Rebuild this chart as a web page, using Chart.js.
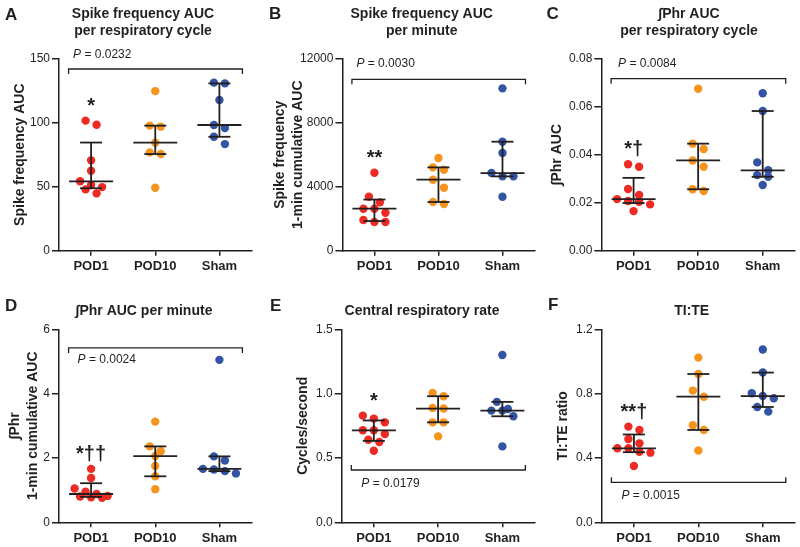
<!DOCTYPE html>
<html><head><meta charset="utf-8">
<script src="https://cdn.jsdelivr.net/npm/chart.js@4.4.1/dist/chart.umd.min.js"></script>
<style>
html,body{margin:0;padding:0;background:#fff;}
#wrap{position:relative;width:800px;height:547px;overflow:hidden;background:#fff;}
.panel{position:absolute;}
</style></head><body>
<div id="wrap">
  <div class="panel" style="left:0px;top:0px;width:265px;height:278px"><canvas id="cA"></canvas></div>
  <div class="panel" style="left:265px;top:0px;width:275px;height:278px"><canvas id="cB"></canvas></div>
  <div class="panel" style="left:530px;top:0px;width:270px;height:278px"><canvas id="cC"></canvas></div>
  <div class="panel" style="left:0px;top:278px;width:265px;height:269px"><canvas id="cD"></canvas></div>
  <div class="panel" style="left:265px;top:278px;width:275px;height:269px"><canvas id="cE"></canvas></div>
  <div class="panel" style="left:530px;top:278px;width:270px;height:269px"><canvas id="cF"></canvas></div>
</div>
<script>
// ---------- data ----------
const categories = ['POD1', 'POD10', 'Sham'];
const groupColors = ['#ED2B24', '#F7941E', '#3353A4'];

// A: Spike frequency AUC per respiratory cycle
const titleA = ['Spike frequency AUC', 'per respiratory cycle'];
const yTitleA = 'Spike frequency AUC';
const ticksA = ['0', '50', '100', '150'];
const pod1A = [101.6, 98.4, 70.6, 62.5, 54.2, 51.3, 49.7, 47.9, 44.8];
const pod10A = [124.7, 97.7, 96.9, 84.4, 76.8, 75.5, 49.2];
const shamA = [131.3, 130.7, 117.7, 98.2, 95.8, 89.0, 83.3];
const pA = '0.0232';
const markA = '*';

// B: Spike frequency AUC per minute
const titleB = ['Spike frequency AUC', 'per minute'];
const yTitleB = ['Spike frequency', '1-min cumulative AUC'];
const ticksB = ['0', '4000', '8000', '12000'];
const pod1B = [4875, 3375, 3021, 2625, 2625, 2375, 1917, 1792, 1792];
const pod10B = [5792, 5208, 5063, 4438, 3938, 3042, 2917];
const shamB = [10146, 6813, 6104, 4854, 4646, 4646, 3375];
const pB = '0.0030';
const markB = '**';

// C: ∫Phr AUC per respiratory cycle
const titleC = ['\u222BPhr AUC', 'per respiratory cycle'];
const yTitleC = '\u222BPhr AUC';
const ticksC = ['0.00', '0.02', '0.04', '0.06', '0.08'];
const pod1C = [0.0360, 0.0350, 0.0257, 0.0232, 0.0215, 0.0207, 0.0204, 0.0193, 0.0165];
const pod10C = [0.0675, 0.0446, 0.0424, 0.0376, 0.0350, 0.0256, 0.0249];
const shamC = [0.0656, 0.0582, 0.0368, 0.0335, 0.0315, 0.0308, 0.0274];
const pC = '0.0084';
const markC = '*\u2020';

// D: ∫Phr AUC per minute
const titleD = '\u222BPhr AUC per minute';
const yTitleD = ['\u222BPhr', '1-min cumulative AUC'];
const ticksD = ['0', '2', '4', '6'];
const pod1D = [1.66, 1.38, 1.05, 0.95, 0.88, 0.82, 0.80, 0.78, 0.76];
const pod10D = [3.13, 2.36, 2.21, 2.06, 1.75, 1.43, 1.03];
const shamD = [5.05, 2.05, 1.92, 1.66, 1.64, 1.59, 1.52];
const pD = '0.0024';
const markD = '*\u2020\u2020';

// E: Central respiratory rate
const titleE = 'Central respiratory rate';
const yTitleE = 'Cycles/second';
const ticksE = ['0.0', '0.5', '1.0', '1.5'];
const pod1E = [0.829, 0.806, 0.777, 0.715, 0.715, 0.686, 0.642, 0.624, 0.556];
const pod10E = [1.006, 0.980, 0.889, 0.884, 0.777, 0.777, 0.668];
const shamE = [1.300, 0.936, 0.881, 0.868, 0.868, 0.824, 0.590];
const pE = '0.0179';
const markE = '*';

// F: TI:TE
const titleF = 'TI:TE';
const yTitleF = 'TI:TE ratio';
const ticksF = ['0.0', '0.4', '0.8', '1.2'];
const pod1F = [0.595, 0.574, 0.518, 0.491, 0.460, 0.460, 0.439, 0.433, 0.350];
const pod10F = [1.024, 0.922, 0.819, 0.781, 0.603, 0.574, 0.446];
const shamF = [1.074, 0.931, 0.802, 0.785, 0.771, 0.717, 0.688];
const pF = '0.0015';
const markF = '**\u2020';

// ---------- style ----------
const INK = '#231f20';
const FONT = '"Liberation Sans", Arial, Helvetica, sans-serif';
Chart.defaults.font.family = FONT;
Chart.defaults.color = INK;

// Prism-style quantile: position (n+1)p
function quant(vals, p) {
  const s = vals.slice().sort((a, b) => a - b);
  const n = s.length;
  let pos = (n + 1) * p;
  pos = Math.min(Math.max(pos, 1), n);
  const lo = Math.floor(pos), hi = Math.ceil(pos), f = pos - lo;
  return s[lo - 1] + (s[hi - 1] - s[lo - 1]) * f;
}

function line(ctx, x1, y1, x2, y2) {
  ctx.beginPath(); ctx.moveTo(x1, y1); ctx.lineTo(x2, y2); ctx.stroke();
}

const decor = {
  id: 'decor',
  afterLayout(chart) {
    const p = chart.$panel;
    const t = chart.titleBlock;
    if (t) {
      const w = t.right - t.left;
      t.left = p.titleCenter - w / 2;
      t.right = p.titleCenter + w / 2;
    }
  },
  afterDatasetsUpdate(chart) {
    // scatter-dot-plot spreading: points within one symbol height form a row
    const ROW_H = 8, STEP = 11;
    chart.data.datasets.forEach((ds, di) => {
      const els = chart.getDatasetMeta(di).data.slice().sort((a, b) => a.y - b.y);
      const rows = [];
      els.forEach(e => {
        const last = rows[rows.length - 1];
        if (last && e.y - last[0].y <= ROW_H) last.push(e);
        else rows.push([e]);
      });
      rows.forEach(r => {
        const n = r.length;
        r.forEach((e, j) => { e.x += (j - (n - 1) / 2) * STEP; });
      });
    });
  },
  afterDatasetsDraw(chart) {
    const p = chart.$panel;
    const ctx = chart.ctx;
    const xs = chart.scales.x, ys = chart.scales.y;
    const area = chart.chartArea;
    ctx.save();
    ctx.strokeStyle = INK;
    ctx.fillStyle = INK;
    // median + interquartile range
    ctx.lineWidth = 1.8;
    p.groups.forEach((vals, gi) => {
      const cx = xs.getPixelForValue(gi);
      const ym = ys.getPixelForValue(quant(vals, 0.5));
      const y1 = ys.getPixelForValue(quant(vals, 0.25));
      const y3 = ys.getPixelForValue(quant(vals, 0.75));
      line(ctx, cx, y1, cx, y3);
      line(ctx, cx - 22, ym, cx + 22, ym);
      line(ctx, cx - 11, y1, cx + 11, y1);
      line(ctx, cx - 11, y3, cx + 11, y3);
    });
    // bracket
    ctx.lineWidth = 1.3;
    const bl = xs.getPixelForValue(0) - 22.5;
    const br = xs.getPixelForValue(categories.length - 1) + 23;
    const top = p.bracketSide === 'top';
    const by = top ? area.top + p.bracketOffset : area.bottom - p.bracketOffset;
    const dir = top ? 1 : -1;
    ctx.beginPath();
    ctx.moveTo(bl, by + 5 * dir); ctx.lineTo(bl, by); ctx.lineTo(br, by); ctx.lineTo(br, by + 5 * dir);
    ctx.stroke();
    // P value
    const tx = bl + p.pInset, ty = by + p.pOffset;
    ctx.textAlign = 'left'; ctx.textBaseline = 'middle';
    ctx.font = 'italic 12px ' + FONT;
    ctx.fillText('P', tx, ty);
    const pw = ctx.measureText('P').width;
    ctx.font = '12px ' + FONT;
    ctx.fillText(' = ' + p.pValue, tx + pw, ty);
    // significance mark over POD1
    const els = chart.getDatasetMeta(0).data;
    const topY = Math.min(...els.map(e => e.y));
    ctx.font = 'bold 20px ' + FONT;
    ctx.textAlign = 'center'; ctx.textBaseline = 'alphabetic';
    ctx.fillText(p.mark, xs.getPixelForValue(0), topY - 9);
    ctx.restore();
  },
  afterDraw(chart) {
    const p = chart.$panel;
    const ctx = chart.ctx;
    ctx.save();
    ctx.fillStyle = INK;
    ctx.font = 'bold 17px ' + FONT;
    ctx.textAlign = 'left'; ctx.textBaseline = 'alphabetic';
    ctx.fillText(p.letter, p.letterX, p.letterY);
    ctx.restore();
  }
};

const panels = [
  {canvas: 'cA', letter: 'A', letterX: 5, letterY: 20, title: titleA, yTitle: yTitleA, ticks: ticksA,
   groups: [pod1A, pod10A, shamA], pValue: pA, mark: markA,
   titleCenter: 143, padRight: 13.5, yAxisW: 59, yTitlePad: 10.9, xAxisH: 27.3,
   bracketSide: 'top', bracketOffset: 10.3, pOffset: -14, pInset: 4.5},
  {canvas: 'cB', letter: 'B', letterX: 4, letterY: 19, title: titleB, yTitle: yTitleB, ticks: ticksB,
   groups: [pod1B, pod10B, shamB], pValue: pB, mark: markB,
   titleCenter: 156.7, padRight: 5.5, yAxisW: 77.4, yTitlePad: 5.9, xAxisH: 27.3,
   bracketSide: 'top', bracketOffset: 20.6, pOffset: -16, pInset: 4.5},
  {canvas: 'cC', letter: 'C', letterX: 16.5, letterY: 19, title: titleC, yTitle: yTitleC, ticks: ticksC,
   groups: [pod1C, pod10C, shamC], pValue: pC, mark: markC,
   titleCenter: 159, padRight: 5, yAxisW: 71.3, yTitlePad: 17.6, xAxisH: 27.3,
   bracketSide: 'top', bracketOffset: 20, pOffset: -15, pInset: 7},
  {canvas: 'cD', letter: 'D', letterX: 5, letterY: 32.7, title: titleD, yTitle: yTitleD, ticks: ticksD,
   groups: [pod1D, pod10D, shamD], pValue: pD, mark: markD,
   titleCenter: 144, padRight: 13.5, yAxisW: 59, yTitlePad: 5.9, xAxisH: 24.7,
   bracketSide: 'top', bracketOffset: 18.6, pOffset: 12, pInset: 9},
  {canvas: 'cE', letter: 'E', letterX: 5, letterY: 32.7, title: titleE, yTitle: yTitleE, ticks: ticksE,
   groups: [pod1E, pod10E, shamE], pValue: pE, mark: markE,
   titleCenter: 157, padRight: 5.5, yAxisW: 76.7, yTitlePad: 29.2, xAxisH: 24.7,
   bracketSide: 'bottom', bracketOffset: 52.3, pOffset: 13.3, pInset: 10},
  {canvas: 'cF', letter: 'F', letterX: 18, letterY: 32, title: titleF, yTitle: yTitleF, ticks: ticksF,
   groups: [pod1F, pod10F, shamF], pValue: pF, mark: markF,
   titleCenter: 161.7, padRight: 5, yAxisW: 71.7, yTitlePad: 24.2, xAxisH: 24.7,
   bracketSide: 'bottom', bracketOffset: 40, pOffset: 13, pInset: 10}
];

// attach the panel's configuration to each chart before its first layout
Chart.register({
  id: 'attachPanel',
  beforeInit(chart) {
    chart.$panel = panels.find(q => q.canvas === chart.canvas.id);
  }
});

function makePanel(p) {
  const yVals = p.ticks.map(Number);
  const datasets = p.groups.map((vals, gi) => ({
    label: categories[gi],
    data: vals.map(v => ({x: gi, y: v})),
    backgroundColor: groupColors[gi],
    borderWidth: 0,
    pointRadius: 4.2,
    pointHoverRadius: 4.2
  }));
  const row1 = Array.isArray(p.title);
  return new Chart(document.getElementById(p.canvas), {
    type: 'scatter',
    data: {datasets},
    options: {
      responsive: true,
      maintainAspectRatio: false,
      animation: false,
      events: [],
      layout: {padding: {left: 0, top: 0, right: p.padRight, bottom: 0}},
      plugins: {
        legend: {display: false},
        tooltip: {enabled: false},
        title: {
          display: true, text: p.title, color: INK,
          font: {family: FONT, size: 14, weight: 'bold', lineHeight: 1.2},
          padding: row1 ? {top: 5.6, bottom: 19.5} : {top: 24.3, bottom: 10.2}
        }
      },
      scales: {
        x: {
          type: 'linear', min: -0.5, max: 2.5,
          afterBuildTicks: s => { s.ticks = categories.map((c, i) => ({value: i})); },
          afterFit: s => { s.height = p.xAxisH; },
          ticks: {
            callback: (v, i) => categories[i], color: INK, autoSkip: false, maxRotation: 0,
            font: {family: FONT, size: 13, weight: 'bold'}, padding: 3
          },
          grid: {drawOnChartArea: false, drawTicks: true, tickLength: 5, color: INK, lineWidth: 1.5},
          border: {display: true, color: INK, width: 1.5}
        },
        y: {
          type: 'linear', min: yVals[0], max: yVals[yVals.length - 1],
          afterBuildTicks: s => { s.ticks = yVals.map(v => ({value: v})); },
          afterFit: s => { s.width = p.yAxisW; },
          ticks: {
            callback: (v, i) => p.ticks[i], color: INK,
            font: {family: FONT, size: 12}, padding: 2
          },
          grid: {drawOnChartArea: false, drawTicks: true, tickLength: 7, color: INK, lineWidth: 1.5},
          border: {display: true, color: INK, width: 1.5},
          title: {
            display: true, text: p.yTitle, color: INK,
            font: {family: FONT, size: 14, weight: 'bold', lineHeight: 1.3},
            padding: {top: p.yTitlePad, bottom: 0}
          }
        }
      }
    },
    plugins: [decor]
  });
}

panels.forEach(makePanel);
</script>
</body></html>
